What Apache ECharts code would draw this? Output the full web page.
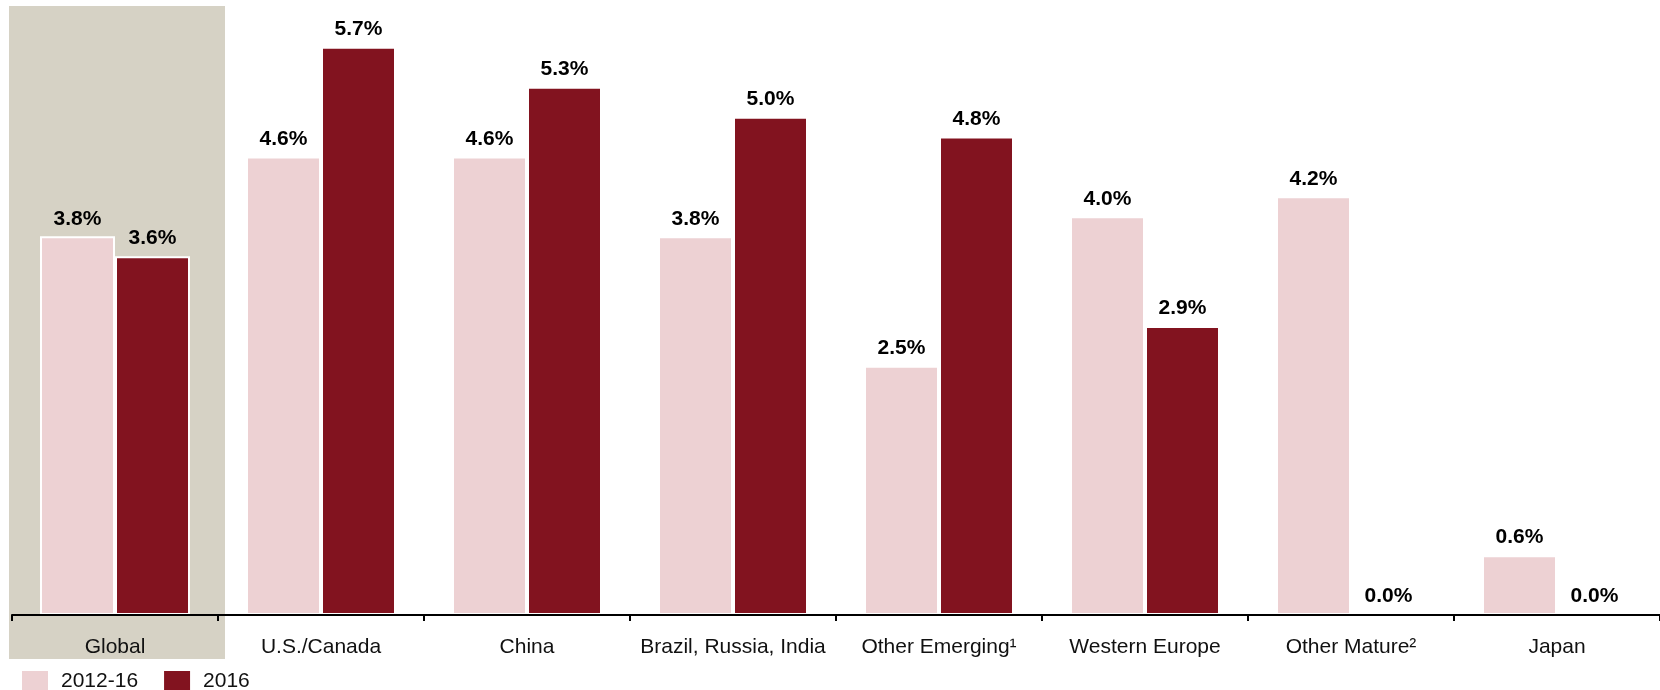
<!DOCTYPE html>
<html>
<head>
<meta charset="utf-8">
<style>
  html, body { margin: 0; padding: 0; background: #ffffff; }
  #chart { width: 1660px; height: 690px; }
</style>
<script src="https://cdn.jsdelivr.net/npm/echarts@6/dist/echarts.min.js"></script>
</head>
<body>
<div id="chart"></div>
<script>
// Regions along the category axis
const categories = ['Global', 'U.S./Canada', 'China', 'Brazil, Russia, India',
  'Other Emerging\u00B9', 'Western Europe', 'Other Mature\u00B2', 'Japan'];
// Growth rates, percent
const growth201216 = [3.8, 4.6, 4.6, 3.8, 2.5, 4.0, 4.2, 0.6];
const growth2016 = [3.6, 5.7, 5.3, 5.0, 4.8, 2.9, 0.0, 0.0];
const seriesNames = ['2012-16', '2016'];

const FONT = "'Liberation Sans', Arial, Helvetica, sans-serif";
const PINK = '#edd1d3';
const MAROON = '#82131f';
const BAND = '#d6d2c5';
const Y_MAX = 6.11;

const chart = echarts.init(document.getElementById('chart'), null, { renderer: 'canvas' });

function barSeries(name, values, color) {
  return {
    name: name,
    type: 'bar',
    data: values,
    barWidth: 75,
    barGap: '0%',
    itemStyle: { color: color, borderColor: '#ffffff', borderWidth: 2 },
    label: {
      show: true,
      position: 'top',
      distance: 7,
      fontFamily: FONT,
      fontSize: 21,
      fontWeight: 'bold',
      color: '#000000',
      formatter: p => p.value.toFixed(1) + '%'
    },
    emphasis: { disabled: true },
    animation: false
  };
}

chart.setOption({
  animation: false,
  grid: { left: 12, right: -7, top: 6, bottom: 75, containLabel: false },
  legend: {
    left: 20,
    top: 669,
    padding: 0,
    itemWidth: 28,
    itemHeight: 22,
    itemGap: 24,
    icon: 'rect',
    selectedMode: false,
    textStyle: { fontFamily: FONT, fontSize: 21, color: '#111111', padding: [0, 0, 0, 7] },
    data: seriesNames
  },
  xAxis: {
    type: 'category',
    data: categories,
    z: 5,
    axisLine: { lineStyle: { color: '#000000', width: 2 } },
    axisTick: { show: true, length: 6, lineStyle: { color: '#000000', width: 2 } },
    axisLabel: { fontFamily: FONT, fontSize: 21, color: '#111111', margin: 22, interval: 0 }
  },
  yAxis: {
    type: 'value',
    min: 0,
    max: Y_MAX,
    show: false,
    splitLine: { show: false }
  },
  series: [
    barSeries(seriesNames[0], growth201216, PINK),
    barSeries(seriesNames[1], growth2016, MAROON)
  ]
});

// Shaded band behind the "Global" category, placed from the axis scale
function drawBand() {
  const c0 = chart.convertToPixel({ xAxisIndex: 0 }, categories[0]);
  const c1 = chart.convertToPixel({ xAxisIndex: 0 }, categories[1]);
  const step = c1 - c0;
  const top = chart.convertToPixel({ yAxisIndex: 0 }, Y_MAX);
  const base = chart.convertToPixel({ yAxisIndex: 0 }, 0);
  const left = c0 - step / 2 - 3;
  const right = c0 + step / 2 + 7;
  chart.setOption({
    graphic: [{
      type: 'rect',
      z: -10,
      silent: true,
      shape: { x: left, y: top, width: right - left, height: base + 44 - top },
      style: { fill: BAND }
    }]
  });
}
drawBand();
</script>
</body>
</html>
